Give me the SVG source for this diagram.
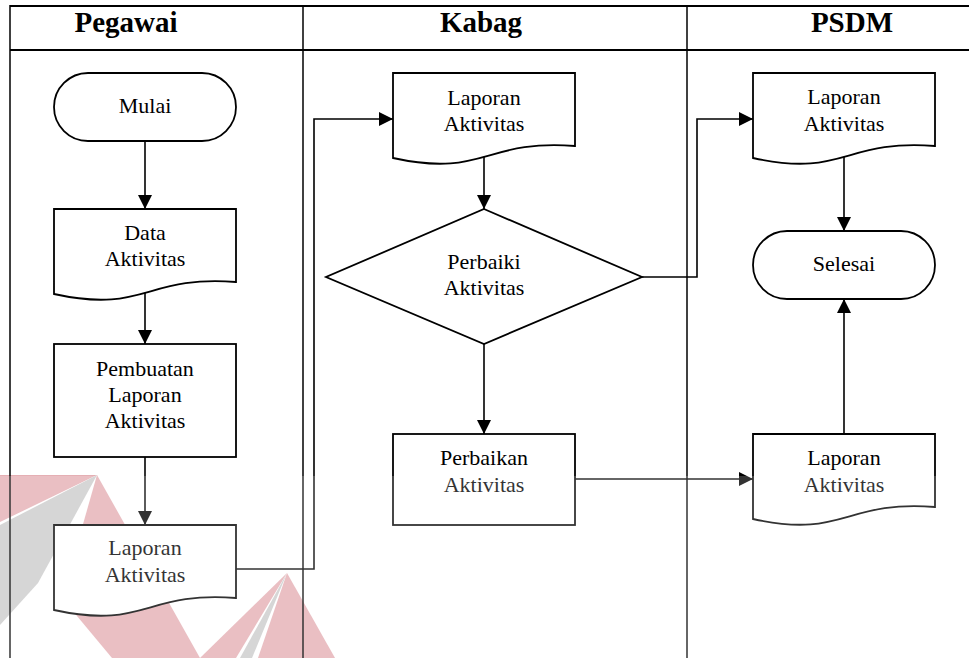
<svg xmlns="http://www.w3.org/2000/svg" width="969" height="658" viewBox="0 0 969 658">
  <style>
    .lane { stroke: #000; stroke-width: 1.5; fill: none; }
    .frame { stroke: #000; stroke-width: 2; fill: none; }
    .shape { stroke: #000; stroke-width: 1.8; fill: #fff; }
    .conn { stroke: #000; stroke-width: 1.6; fill: none; }
    .head { font-family: "Liberation Serif", "Times New Roman", serif; font-size: 29px; font-weight: bold; text-anchor: middle; fill: #000; }
    .lbl { font-family: "Liberation Serif", "Times New Roman", serif; font-size: 22px; text-anchor: middle; fill: #000; }
  </style>
  <defs>
    <marker id="arrow" markerUnits="userSpaceOnUse" markerWidth="14" markerHeight="14" refX="14" refY="7" orient="auto">
      <path d="M0,0 L14,7 L0,14 z" fill="#000"/>
    </marker>
  </defs>

  <rect x="0" y="0" width="969" height="658" fill="#fff"/>

  <!-- background watermark -->
  <g id="watermark">
    <polygon points="0,475 97,475 0,522" fill="#e5afb4"/>
    <polygon points="97,475 0,525 0,625 38,583" fill="#cccccc"/>
    <polygon points="97,475 62,598 112,658 200,658" fill="#e5afb4"/>
    <polygon points="287,573 200,658 236,658" fill="#e5afb4"/>
    <polygon points="287,573 240,658 252,658" fill="#cccccc"/>
    <polygon points="287,573 258,658 335,658" fill="#e5afb4"/>
  </g>

  <!-- swimlane frame -->
  <g id="lanes">
    <line class="frame" x1="10" y1="6" x2="969" y2="6"/>
    <line class="frame" x1="10" y1="50" x2="969" y2="50"/>
    <line class="lane" x1="10" y1="5" x2="10" y2="658"/>
    <line class="lane" x1="303" y1="5" x2="303" y2="658"/>
    <line class="lane" x1="687" y1="5" x2="687" y2="658"/>
    <text class="head" x="126" y="32">Pegawai</text>
    <text class="head" x="481" y="32">Kabag</text>
    <text class="head" x="852" y="32">PSDM</text>
  </g>

  <!-- connectors -->
  <g id="connectors">
    <path class="conn" d="M145,141 V209" marker-end="url(#arrow)"/>
    <path class="conn" d="M145,293 V344" marker-end="url(#arrow)"/>
    <path class="conn" d="M145,457 V525" marker-end="url(#arrow)"/>
    <path class="conn" d="M236,569 H314 V119 H393" marker-end="url(#arrow)"/>
    <path class="conn" d="M484,157 V209" marker-end="url(#arrow)"/>
    <path class="conn" d="M642,277 H697 V119 H753" marker-end="url(#arrow)"/>
    <path class="conn" d="M484,344 V434" marker-end="url(#arrow)"/>
    <path class="conn" d="M844,157 V231" marker-end="url(#arrow)"/>
    <path class="conn" d="M575,479 H753" marker-end="url(#arrow)"/>
    <path class="conn" d="M844,434 V299" marker-end="url(#arrow)"/>
  </g>

  <!-- Pegawai lane -->
  <g id="mulai">
    <rect class="shape" x="54" y="73" width="182" height="68" rx="34" ry="34"/>
    <text class="lbl" x="145" y="113">Mulai</text>
  </g>
  <g id="data-aktivitas">
    <path class="shape" d="M54,209 H236 V282 C145,275 145,314 54,294 Z"/>
    <text class="lbl" x="145" y="240">Data</text>
    <text class="lbl" x="145" y="266">Aktivitas</text>
  </g>
  <g id="pembuatan-laporan">
    <rect class="shape" x="54" y="344" width="182" height="113"/>
    <text class="lbl" x="145" y="376">Pembuatan</text>
    <text class="lbl" x="145" y="402">Laporan</text>
    <text class="lbl" x="145" y="428">Aktivitas</text>
  </g>
  <g id="laporan-pegawai">
    <path class="shape" d="M54,525 H236 V598 C145,591 145,630 54,610 Z"/>
    <text class="lbl" x="145" y="555">Laporan</text>
    <text class="lbl" x="145" y="582">Aktivitas</text>
  </g>

  <!-- Kabag lane -->
  <g id="laporan-kabag">
    <path class="shape" d="M393,73 H575 V146 C484,139 484,178 393,158 Z"/>
    <text class="lbl" x="484" y="105">Laporan</text>
    <text class="lbl" x="484" y="131">Aktivitas</text>
  </g>
  <g id="perbaiki-aktivitas">
    <polygon class="shape" points="484,209 642,277 484,344 326,277"/>
    <text class="lbl" x="484" y="269">Perbaiki</text>
    <text class="lbl" x="484" y="295">Aktivitas</text>
  </g>
  <g id="perbaikan-aktivitas">
    <rect class="shape" x="393" y="434" width="182" height="91"/>
    <text class="lbl" x="484" y="465">Perbaikan</text>
    <text class="lbl" x="484" y="492">Aktivitas</text>
  </g>

  <!-- PSDM lane -->
  <g id="laporan-psdm">
    <path class="shape" d="M753,73 H935 V146 C844,139 844,178 753,158 Z"/>
    <text class="lbl" x="844" y="104">Laporan</text>
    <text class="lbl" x="844" y="131">Aktivitas</text>
  </g>
  <g id="selesai">
    <rect class="shape" x="753" y="231" width="182" height="68" rx="34" ry="34"/>
    <text class="lbl" x="844" y="271">Selesai</text>
  </g>
  <g id="laporan-psdm-revisi">
    <path class="shape" d="M753,434 H935 V507 C844,500 844,539 753,519 Z"/>
    <text class="lbl" x="844" y="465">Laporan</text>
    <text class="lbl" x="844" y="492">Aktivitas</text>
  </g>

  <!-- light wash over the lower area -->
  <rect x="0" y="476" width="969" height="182" fill="#fff" opacity="0.2"/>
</svg>
